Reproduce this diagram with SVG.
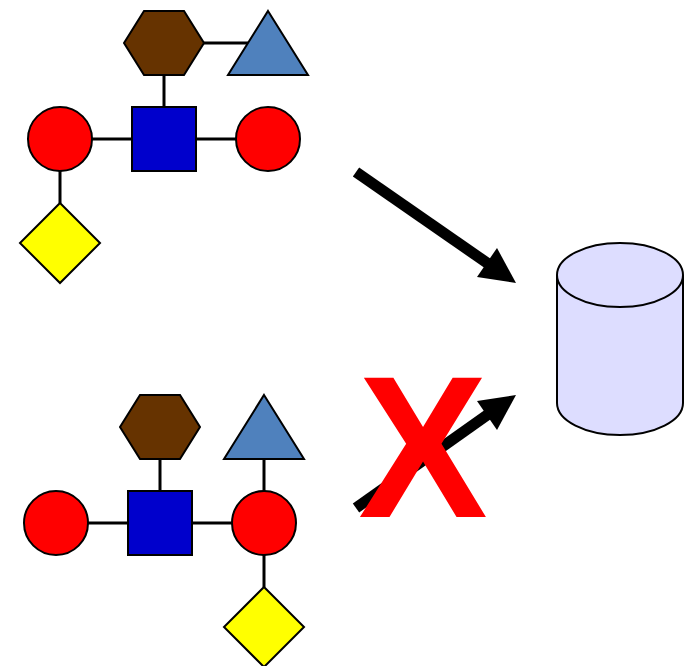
<svg xmlns="http://www.w3.org/2000/svg" width="693" height="666" viewBox="0 0 693 666">
<style>
.s{stroke:#000;stroke-width:2}
.bond{stroke:#000;stroke-width:3;fill:none}
.gal{fill:#FF0000}
.glc{fill:#0000CC}
.hex{fill:#663300}
.tri{fill:#4F81BD}
.dia{fill:#FFFF00}
.arr{stroke:#000;stroke-width:11;fill:none}
</style>
<rect width="693" height="666" fill="#fff"/>
<g id="connectors">
<line class="bond" x1="204" y1="43" x2="250" y2="43"/>
<line class="bond" x1="164" y1="75" x2="164" y2="107"/>
<line class="bond" x1="92" y1="139" x2="132" y2="139"/>
<line class="bond" x1="196" y1="139" x2="236" y2="139"/>
<line class="bond" x1="60" y1="171" x2="60" y2="203"/>
<line class="bond" x1="160" y1="459" x2="160" y2="491"/>
<line class="bond" x1="88" y1="523" x2="128" y2="523"/>
<line class="bond" x1="192" y1="523" x2="232" y2="523"/>
<line class="bond" x1="264" y1="459" x2="264" y2="491"/>
<line class="bond" x1="264" y1="555" x2="264" y2="587"/>
<g id="arrow-top">
<line class="arr" x1="356" y1="172" x2="490" y2="265"/>
<polygon points="516,283 477,277 497,248" fill="#000"/>
</g>
<g id="arrow-bottom">
<line class="arr" x1="356" y1="508" x2="490" y2="413"/>
<polygon points="516,395 477,401 497,430" fill="#000"/>
</g>
</g>
<g id="top-hexagon"><polygon class="s hex" points="124,43 144,11 184,11 204,43 184,75 144,75"/></g>
<g id="top-triangle"><polygon class="s tri" points="268,11 308,75 228,75"/></g>
<g id="top-square"><rect class="s glc" x="132" y="107" width="64" height="64"/></g>
<g id="top-circle-left"><circle class="s gal" cx="60" cy="139" r="32"/></g>
<g id="top-circle-right"><circle class="s gal" cx="268" cy="139" r="32"/></g>
<g id="top-diamond"><polygon class="s dia" points="60,203 100,243 60,283 20,243"/></g>
<g id="bottom-hexagon"><polygon class="s hex" points="120,427 140,395 180,395 200,427 180,459 140,459"/></g>
<g id="bottom-triangle"><polygon class="s tri" points="264,395 304,459 224,459"/></g>
<g id="bottom-square"><rect class="s glc" x="128" y="491" width="64" height="64"/></g>
<g id="bottom-circle-left"><circle class="s gal" cx="56" cy="523" r="32"/></g>
<g id="bottom-circle-right"><circle class="s gal" cx="264" cy="523" r="32"/></g>
<g id="bottom-diamond"><polygon class="s dia" points="264,587 304,627 264,667 224,627"/></g>
<g id="database">
<path class="s" fill="#DDDDFF" d="M557,275 L557,403 A63,32 0 0 0 683,403 L683,275 A63,32 0 0 0 557,275 Z"/>
<path class="s" fill="none" d="M557,275 A63,32 0 0 0 683,275"/>
</g>
<g id="cross"><text transform="translate(423,517) scale(0.96,1)" x="0" y="0" font-family="Liberation Sans, Arial, sans-serif" font-weight="bold" font-size="202" fill="#FF0000" text-anchor="middle">X</text></g>
</svg>
